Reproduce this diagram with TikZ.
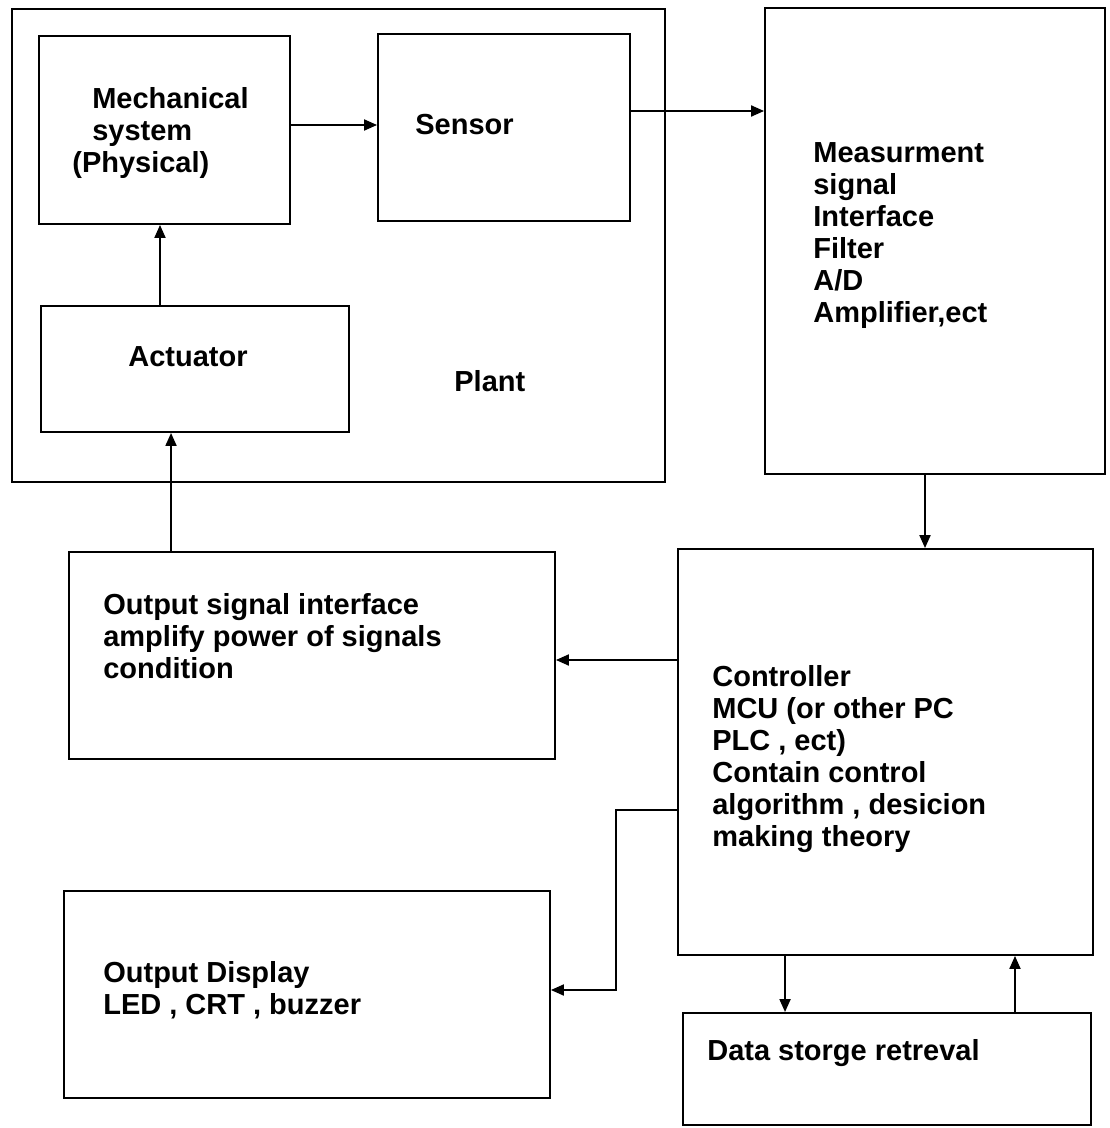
\documentclass[tikz,border=0pt]{standalone}
\usepackage{amsmath}
\usepackage{xcolor}
\usepackage{fontspec}
\setmainfont{Liberation Sans}
\usepackage{tikz}
\usetikzlibrary{arrows.meta}

\begin{document}
\begin{tikzpicture}[x=0.02cm,y=-0.02cm,
    box/.style={draw,line width=1.1pt,inner sep=0,minimum width=#1},
    lbl/.style={inner sep=0,align=left,font=\fontsize{16.5}{18.2}\selectfont\bfseries},
    arr/.style={-{Triangle[length=0.26cm,width=0.22cm]},line width=1.1pt}]
    \useasboundingbox (0,0) rectangle (1109,1128);
    % plant and its parts
    \node[box=13.06cm,minimum height=9.46cm] (plant) at (338.5,245.5) {};
    \node[box=5.02cm,minimum height=3.76cm] (mech) at (164.5,130) {};
    \node[box=5.04cm,minimum height=3.74cm] (sensor) at (504,127.5) {};
    \node[box=6.16cm,minimum height=2.52cm] (act) at (195,369) {};
    % signal side
    \node[box=6.8cm,minimum height=9.32cm] (meas) at (935,241) {};
    \node[box=9.72cm,minimum height=4.14cm] (outsig) at (312,655.5) {};
    \node[box=8.3cm,minimum height=8.12cm] (ctrl) at (885.5,752) {};
    \node[box=9.72cm,minimum height=4.14cm] (disp) at (307,994.5) {};
    \node[box=8.16cm,minimum height=2.24cm] (data) at (887,1069) {};

    \node[lbl,anchor=north west] (mech-txt) at (72,87)
        {\hspace*{0.4cm}Mechanical\\\hspace*{0.4cm}system\\(Physical)};
    \node[lbl,anchor=west] (sensor-txt) at (415,125) {Sensor};
    \node[lbl,anchor=west] (act-txt) at (128,357) {Actuator};
    \node[lbl,anchor=west] (plant-txt) at (454,381) {Plant};
    \node[lbl,anchor=north west] (meas-txt) at (813,142)
        {Measurment\\signal\\Interface\\Filter\\A/D\\Amplifier,ect};
    \node[lbl,anchor=north west] (outsig-txt) at (103,593)
        {Output signal interface\\amplify power of signals\\condition};
    \node[lbl,anchor=north west] (ctrl-txt) at (712,665)
        {Controller\\MCU (or other PC\\PLC , ect)\\Contain control\\algorithm , desicion\\making theory};
    \node[lbl,anchor=north west] (disp-txt) at (103,961)
        {Output Display\\LED , CRT , buzzer};
    \node[lbl,anchor=west] (data-txt) at (707,1053) {Data storge retreval};

    % connectors
    \draw[arr] ([yshift=0.1cm]mech.east) -- ([yshift=0.1cm]mech.east -| sensor.west);
    \draw[arr] ([yshift=0.33cm]sensor.east) -- ([yshift=0.33cm]sensor.east -| meas.west);
    \draw[arr] ([xshift=-0.09cm]mech.south |- act.north) -- ([xshift=-0.09cm]mech.south);
    \draw[arr] ([xshift=-2.82cm]outsig.north) -- ([xshift=-2.82cm]outsig.north |- act.south);
    \draw[arr] ([xshift=-0.2cm]meas.south) -- ([xshift=-0.2cm]meas.south |- ctrl.north);
    \draw[arr] ([yshift=-0.09cm]ctrl.west |- outsig.east) -- ([yshift=-0.09cm]outsig.east);
    \draw[arr] ([yshift=-1.16cm]ctrl.west) -- ++(-61,0) |- ([yshift=0.09cm]disp.east);
    \draw[arr] ([xshift=-2.01cm]ctrl.south) -- ([xshift=-2.01cm]ctrl.south |- data.north);
    \draw[arr] ([xshift=2.56cm]data.north) -- ([xshift=2.56cm]data.north |- ctrl.south);
\end{tikzpicture}
\end{document}
